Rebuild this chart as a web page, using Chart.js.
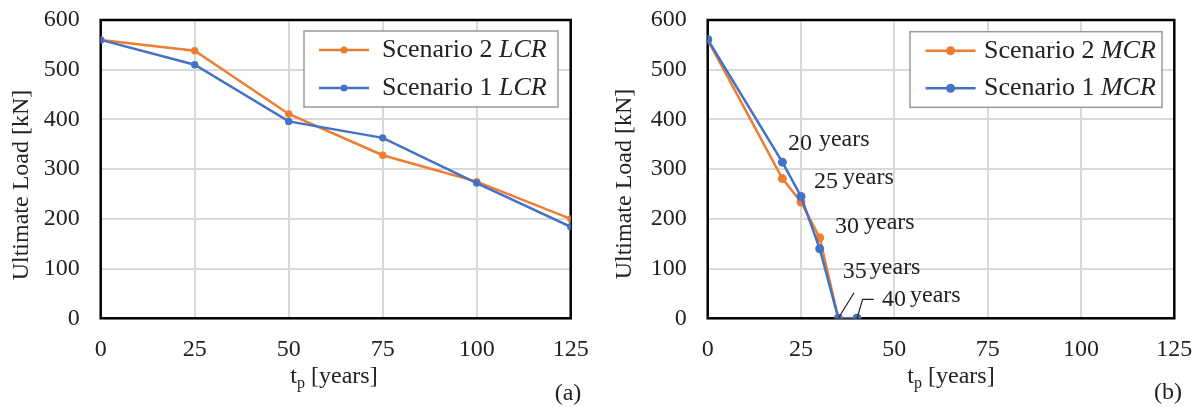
<!DOCTYPE html>
<html>
<head>
<meta charset="utf-8">
<script src="https://cdn.jsdelivr.net/npm/chart.js@4.4.0/dist/chart.umd.min.js"></script>
<style>
  html, body { margin: 0; padding: 0; background: #fff; }
  #wrap { position: relative; width: 1199px; height: 407px; }
  .panel { position: absolute; top: 0; height: 407px; }
</style>
</head>
<body>
<div id="wrap">
  <div class="panel" style="left:0;width:600px"><canvas id="plotA" width="600" height="407"></canvas></div>
  <div class="panel" style="left:600px;width:599px"><canvas id="plotB" width="599" height="407"></canvas></div>
</div>
<script>
// Panel (a): LCR
const tiempoLCR = [0, 25, 50, 75, 100, 125];
const escenario2LCR = [560, 538, 411, 328, 275, 200];
const escenario1LCR = [560, 510, 396, 363, 272, 184];

// Panel (b): MCR
const tiempoMCR = [0, 20, 25, 30, 35, 40];
const escenario2MCR = [560, 281, 234, 162, 0, 0];
const escenario1MCR = [561, 314, 245, 140, 0, 0];

// Ejes
const ticksX = [0, 25, 50, 75, 100, 125];
const ticksY = [0, 100, 200, 300, 400, 500, 600];

// Etiquetas de años en (b)
const etiquetasAnos = ['20', '25', '30', '35', '40'];

const NARANJA = '#ED7D31';
const AZUL = '#4472C4';
const SERIF = "'Liberation Serif', 'Times New Roman', serif";

let puntos = (xs, ys) => xs.map((v, i) => ({ x: v, y: ys[i] }));

//Plugin para marco, leyenda, títulos y anotaciones
const extras = {
  id: 'extras',
  beforeDatasetsDraw(chart, args, o) {
    const { ctx, chartArea: a } = chart;
    ctx.save();
    ctx.strokeStyle = '#000';
    ctx.lineWidth = 2.5;
    ctx.strokeRect(a.left, a.top, a.right - a.left, a.bottom - a.top);
    ctx.restore();
  },
  afterDraw(chart, args, o) {
    const { ctx, chartArea: a, scales: { x, y } } = chart;
    ctx.save();
    ctx.fillStyle = '#222';
    ctx.textBaseline = 'middle';

    // titulo eje Y
    ctx.save();
    ctx.translate(o.yTitle[0], o.yTitle[1]);
    ctx.rotate(-Math.PI / 2);
    ctx.font = '24px ' + SERIF;
    ctx.textAlign = 'center';
    ctx.fillText('Ultimate Load [kN]', 0, 0);
    ctx.restore();

    // titulo eje X: t_p [years]
    ctx.textAlign = 'left';
    let fBig = '24px ' + SERIF, fSub = '16px ' + SERIF;
    ctx.font = fBig; let wT = ctx.measureText('t').width;
    let wR = ctx.measureText(' [years]').width;
    ctx.font = fSub; let wP = ctx.measureText('p').width;
    let x0 = o.xTitle[0] - (wT + wP + wR) / 2, yT = o.xTitle[1];
    ctx.font = fBig; ctx.fillText('t', x0, yT);
    ctx.font = fSub; ctx.fillText('p', x0 + wT, yT + 7);
    ctx.font = fBig; ctx.fillText(' [years]', x0 + wT + wP, yT);

    // (a) / (b)
    ctx.textAlign = 'center';
    ctx.fillText(o.panel, o.panelPos[0], o.panelPos[1]);

    // leyenda
    const L = o.legend;
    ctx.fillStyle = '#fff';
    ctx.fillRect(L.box[0], L.box[1], L.box[2], L.box[3]);
    ctx.strokeStyle = '#999';
    ctx.lineWidth = 1.5;
    ctx.strokeRect(L.box[0], L.box[1], L.box[2], L.box[3]);
    L.items.forEach((it, i) => {
      let ry = L.rows[i];
      ctx.strokeStyle = it.color;
      ctx.lineWidth = 2.5;
      ctx.beginPath();
      ctx.moveTo(L.line[0], ry); ctx.lineTo(L.line[1], ry);
      ctx.stroke();
      ctx.fillStyle = it.color;
      ctx.beginPath();
      ctx.arc((L.line[0] + L.line[1]) / 2, ry, L.r, 0, Math.PI * 2);
      ctx.fill();
      ctx.fillStyle = '#222';
      ctx.textAlign = 'left';
      ctx.font = '26px ' + SERIF;
      ctx.fillText(it.text, L.textX, ry);
      let w = ctx.measureText(it.text).width;
      ctx.font = 'italic 26px ' + SERIF;
      ctx.fillText(it.italic, L.textX + w, ry);
    });

    // anotaciones de años
    if (o.notas) {
      ctx.fillStyle = '#222';
      ctx.textAlign = 'left';
      o.notas.forEach((n, i) => {
        let px = x.getPixelForValue(n.x), py = y.getPixelForValue(n.y);
        ctx.font = '24px ' + SERIF;
        ctx.fillText(etiquetasAnos[i], px, py);
        let w = ctx.measureText(etiquetasAnos[i]).width;
        ctx.font = '24px ' + SERIF;
        ctx.fillText('years', px + w + n.gap, py - 4);
      });
      ctx.strokeStyle = '#222';
      ctx.lineWidth = 1.2;
      o.guias.forEach(g => {
        ctx.beginPath();
        g.forEach((p, k) => {
          let px = x.getPixelForValue(p[0]), py = y.getPixelForValue(p[1]);
          if (k == 0) ctx.moveTo(px, py); else ctx.lineTo(px, py);
        });
        ctx.stroke();
      });
    }
    ctx.restore();
  }
};

let crearConfig = (xs, s1, s2, radio, extra) => ({
  type: 'line',
  data: {
    datasets: [
      {
        label: 'Scenario 1',
        data: puntos(xs, s1),
        borderColor: AZUL, backgroundColor: AZUL,
        borderWidth: 2.5, pointRadius: radio, pointHoverRadius: radio,
        pointBorderWidth: 0, tension: 0
      },
      {
        label: 'Scenario 2',
        data: puntos(xs, s2),
        borderColor: NARANJA, backgroundColor: NARANJA,
        borderWidth: 2.5, pointRadius: radio, pointHoverRadius: radio,
        pointBorderWidth: 0, tension: 0
      }
    ]
  },
  options: {
    responsive: false,
    animation: false,
    events: [],
    layout: { padding: { left: 0, top: 20, right: extra.padRight, bottom: 0 } },
    scales: {
      x: {
        type: 'linear', min: 0, max: 125,
        afterBuildTicks: s => { s.ticks = ticksX.map(v => ({ value: v })); },
        afterFit: s => { s.height = 407 - 318.3; s.paddingLeft = 0; s.paddingRight = 0; },
        grid: { color: '#d9d9d9', lineWidth: 2, drawTicks: false },
        border: { display: false },
        ticks: { padding: 17, color: '#222', font: { family: SERIF, size: 24 }, maxRotation: 0 }
      },
      y: {
        min: 0, max: 600,
        afterBuildTicks: s => { s.ticks = ticksY.map(v => ({ value: v })); },
        afterFit: s => { s.width = extra.yWidth; s.paddingTop = 0; s.paddingBottom = 0; },
        grid: { color: '#d9d9d9', lineWidth: 2, drawTicks: false },
        border: { display: false },
        ticks: { padding: 21, color: '#222', font: { family: SERIF, size: 24 } }
      }
    },
    plugins: {
      legend: { display: false },
      tooltip: { enabled: false },
      extras: extra.extras
    }
  },
  plugins: [extras]
});

let chartA = new Chart(document.getElementById('plotA'), crearConfig(
  tiempoLCR, escenario1LCR, escenario2LCR, 3.7,
  {
    padRight: 29.3, yWidth: 100.7,
    extras: {
      panel: '(a)', panelPos: [568, 394],
      yTitle: [22, 185], xTitle: [334, 377],
      legend: {
        box: [304, 31, 254, 76], rows: [50, 88], line: [319, 369], r: 3.5, textX: 382,
        items: [
          { text: 'Scenario 2 ', italic: 'LCR', color: NARANJA },
          { text: 'Scenario 1 ', italic: 'LCR', color: AZUL }
        ]
      }
    }
  }
));

let chartB = new Chart(document.getElementById('plotB'), crearConfig(
  tiempoMCR, escenario1MCR, escenario2MCR, 4.5,
  {
    padRight: 24.7, yWidth: 107.7,
    extras: {
      panel: '(b)', panelPos: [568, 393],
      yTitle: [25, 184], xTitle: [351, 377],
      legend: {
        box: [310, 31.7, 252, 75.6], rows: [50.7, 88.3], line: [325.6, 375.6], r: 4.5, textX: 384,
        items: [
          { text: 'Scenario 2 ', italic: 'MCR', color: NARANJA },
          { text: 'Scenario 1 ', italic: 'MCR', color: AZUL }
        ]
      },
      notas: [
        { x: 21.5, y: 352, gap: 7 },
        { x: 28.5, y: 274, gap: 5 },
        { x: 34.1, y: 184, gap: 5 },
        { x: 36.2, y: 93, gap: 3 },
        { x: 46.7, y: 37, gap: 4 }
      ],
      guias: [
        [[35, 0], [39.2, 51.5]],
        [[40, 0], [41.5, 38], [44.5, 38]]
      ]
    }
  }
));
</script>
</body>
</html>
